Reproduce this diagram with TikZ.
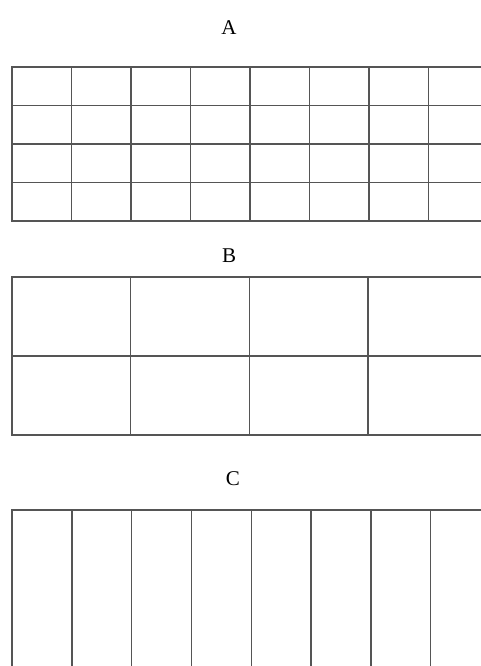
\documentclass[tikz,border=0pt]{standalone}
\usepackage{fontspec}
\setmainfont{Liberation Serif}
\usetikzlibrary{positioning}
\definecolor{Rule}{HTML}{555555}
\tikzset{
  gridline/.style={draw=Rule,line width=1.4pt,line cap=rect},
  title/.style={font=\fontsize{21}{21}\selectfont,inner sep=0pt,anchor=base}
}
\begin{document}
\begin{tikzpicture}[x=1pt,y=-1pt]
  \useasboundingbox (0,0) rectangle (481,666);
  \clip (0,0) rectangle (481,666);
  % panel A: 8 x 4 cells
  \node[title] (labA) at (229,35) {A};
  \foreach \i in {0,...,7} \draw[gridline] (12+59.5*\i,67) -- (12+59.5*\i,221);
  \foreach \j in {0,...,4} \draw[gridline] (12,67+38.5*\j) -- (490,67+38.5*\j);
  % panel B: 4 x 2 cells
  \node[title] (labB) at (229,262) {B};
  \foreach \i in {0,...,3} \draw[gridline] (12+118.7*\i,277) -- (12+118.7*\i,435);
  \foreach \j in {0,1,2} \draw[gridline] (12,277+79*\j) -- (490,277+79*\j);
  % panel C: open strips
  \node[title] (labC) at (233,485) {C};
  \foreach \i in {0,...,7} \draw[gridline] (12+59.8*\i,510) -- (12+59.8*\i,680);
  \draw[gridline] (12,510) -- (490,510);
\end{tikzpicture}
\end{document}
